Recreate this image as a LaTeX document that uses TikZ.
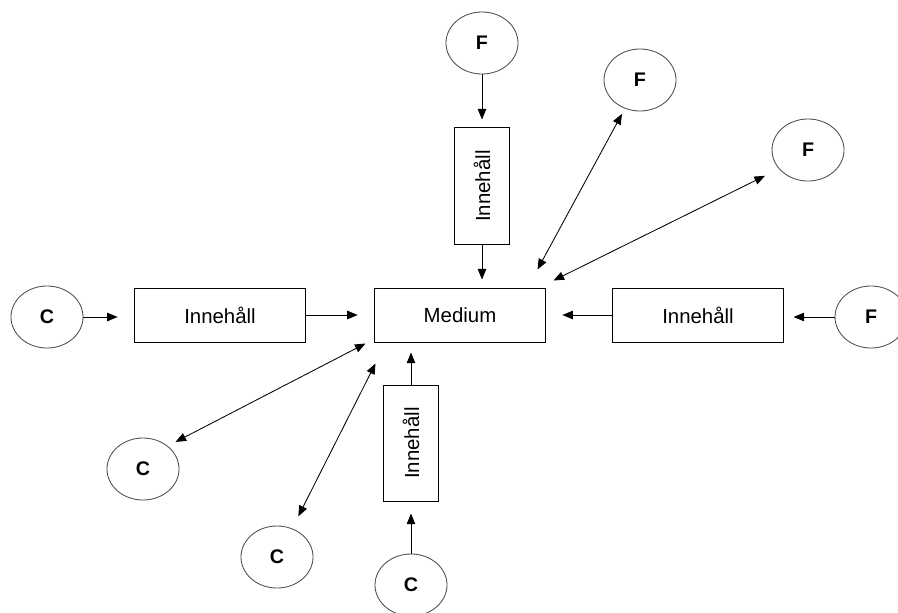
\documentclass[tikz,border=0pt]{standalone}
\usepackage{fontspec}
\setmainfont{Liberation Sans}
\usetikzlibrary{arrows.meta, shapes.geometric}
\tikzset{
	ruta/.style={draw, line width=0.7pt, minimum width=4.25cm, minimum height=1.35cm, inner sep=0pt, font=\fontsize{14.5}{17}\selectfont},
	stapel/.style={draw, line width=0.7pt, rotate=90, minimum width=2.9cm, minimum height=1.38cm, inner sep=0pt, font=\fontsize{14.5}{17}\selectfont},
	aktor/.style={draw=black!70, ellipse, line width=0.6pt, minimum width=1.8cm, minimum height=1.55cm, inner sep=0pt, font=\fontsize{14}{16}\selectfont\bfseries}
}
\begin{document}
\begin{tikzpicture}[x=0.025cm, y=-0.025cm, line width=0.6pt, >={Triangle[length=7.5pt,width=6pt]}]
			\useasboundingbox (0,0) rectangle (898,612);
			% boxes
			\node[ruta] (med) at (460,315) {Medium};
			\node[ruta] (innV) at (220,315) {Innehåll};
			\node[ruta] (innH) at (698,315) {Innehåll};
			\node[stapel] (innU) at (482,186) {Innehåll};
			\node[stapel] (innN) at (411,443) {Innehåll};
			% F and C
			\node[aktor] (fU) at (482,43) {F};
			\node[aktor] (f2) at (640,80) {F};
			\node[aktor] (f3) at (808,150) {F};
			\node[aktor] (fH) at (871,317) {F};
			\node[aktor] (cV) at (47,317) {C};
			\node[aktor] (c1) at (143,469) {C};
			\node[aktor] (c2) at (277,557) {C};
			\node[aktor] (cN) at (411,585) {C};
			% raka pilar
			\draw[->, shorten >=0.42cm] (cV.east) -- (cV.east -| innV.west);
			\draw[->, shorten >=0.42cm] (innV.east) -- (med.west);
			\draw[->, shorten >=0.25cm] (fH.west) -- (fH.west -| innH.east);
			\draw[->, shorten >=0.42cm] (innH.west) -- (med.east);
			\draw[->, shorten >=0.2cm] (fU.south) -- (innU.east);
			\draw[->, shorten >=0.2cm] (innU.west) -- (innU.west |- med.north);
			\draw[->, shorten >=0.3cm] (cN.north) -- (innN.west);
			\draw[->, shorten >=0.25cm] (innN.east) -- (innN.east |- med.south);
			% dubbelpilar
			\draw[<->, shorten <=0.15cm] (f2.242) -- ([shift={(-8,-18)}]med.north east);
			\draw[<->, shorten <=0.39cm] (f3.213) -- ([shift={(8,-7)}]med.north east);
			\draw[<->, shorten <=0.22cm] (c1.43) -- ([shift={(-9,1)}]med.south west);
			\draw[<->, shorten <=0.34cm] (c2.62) -- ([shift={(1,21)}]med.south west);
		\end{tikzpicture}
\end{document}
